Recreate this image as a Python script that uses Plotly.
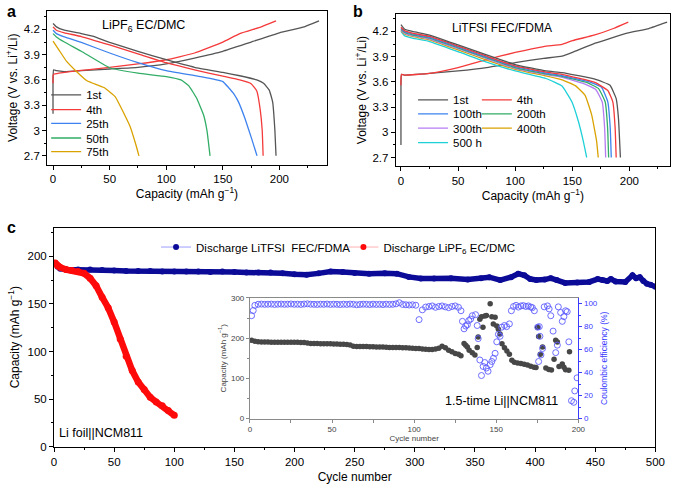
import plotly.graph_objects as go

FONT = "Liberation Sans, Arial, Helvetica, sans-serif"
W, H = 685, 490

# ---------------- Panel a : LiPF6 EC/DMC (capacity mAh/g, voltage V) ----------------
a_1st_chg_cap = [0, 0, 0.5, 3, 10, 25, 50, 75, 100, 125, 150, 175, 200, 222, 235]
a_1st_chg_v = [3.20, 3.60, 3.72, 3.71, 3.70, 3.71, 3.73, 3.75, 3.79, 3.86, 3.94, 4.05, 4.16, 4.23, 4.30]
a_1st_dis_cap = [0, 3, 10, 25, 35, 50, 75, 100, 125, 150, 165, 180, 186, 191, 194, 196, 197]
a_1st_dis_v = [4.27, 4.23, 4.19, 4.15, 4.12, 4.045, 3.94, 3.84, 3.75, 3.69, 3.65, 3.60, 3.56, 3.48, 3.34, 3.0, 2.7]

a_4th_chg_cap = [0, 0, 1, 5, 15, 30, 50, 75, 100, 125, 150, 165, 184, 197]
a_4th_chg_v = [3.56, 3.65, 3.67, 3.68, 3.70, 3.72, 3.75, 3.79, 3.84, 3.92, 4.05, 4.15, 4.23, 4.30]
a_4th_dis_cap = [0, 3, 10, 25, 50, 75, 100, 125, 150, 165, 175, 180, 183, 184.8, 185.6]
a_4th_dis_v = [4.23, 4.19, 4.16, 4.115, 4.015, 3.91, 3.805, 3.72, 3.645, 3.60, 3.555, 3.47, 3.25, 3.0, 2.7]

a_25th_dis_cap = [0, 3, 10, 25, 50, 75, 100, 130, 150, 155, 160, 163.8, 169.5, 175.3, 180.2]
a_25th_dis_v = [4.19, 4.15, 4.11, 4.045, 3.92, 3.805, 3.71, 3.64, 3.58, 3.51, 3.43, 3.34, 3.145, 2.91, 2.7]

a_50th_dis_cap = [0, 3, 10, 25, 50, 75, 100, 113, 120, 127, 133, 136, 138.7]
a_50th_dis_v = [4.15, 4.11, 4.05, 3.94, 3.745, 3.68, 3.64, 3.60, 3.53, 3.38, 3.185, 3.0, 2.7]

a_75th_dis_cap = [0, 5, 12, 20, 30, 45, 55, 62, 68, 73, 75.9]
a_75th_dis_v = [4.06, 3.96, 3.82, 3.71, 3.59, 3.51, 3.40, 3.22, 3.05, 2.84, 2.7]

# ---------------- Panel b : LiTFSI FEC/FDMA ----------------
b_1st_chg_cap = [0, 0, 0.5, 3, 25, 50, 75, 100, 125, 141, 150, 170, 198, 217, 233]
b_1st_chg_v = [2.85, 3.55, 3.69, 3.68, 3.70, 3.73, 3.77, 3.83, 3.88, 3.905, 3.95, 4.06, 4.18, 4.235, 4.31]
b_4th_chg_cap = [0, 0, 0.5, 3, 25, 50, 75, 100, 125, 141, 150, 169, 186, 199]
b_4th_chg_v = [3.56, 3.64, 3.69, 3.68, 3.70, 3.77, 3.865, 3.95, 4.02, 4.045, 4.09, 4.155, 4.235, 4.31]

b_1st_dis_cap = [0, 3, 10, 25, 50, 75, 100, 127, 141, 169.8, 183, 188.4, 190.4, 192.1]
b_1st_dis_v = [4.28, 4.23, 4.20, 4.157, 4.04, 3.92, 3.806, 3.73, 3.71, 3.632, 3.56, 3.40, 3.165, 2.70]
b_4th_dis_cap = [0, 3, 10, 25, 50, 75, 100, 127, 141, 169.8, 181.1, 185.5, 187.5, 188.4]
b_4th_dis_v = [4.25, 4.21, 4.18, 4.14, 4.025, 3.905, 3.79, 3.715, 3.69, 3.593, 3.497, 3.36, 3.05, 2.70]
b_100_dis_cap = [0, 3, 10, 25, 50, 75, 100, 127, 141, 165, 175.6, 181.1, 183.2, 184.1]
b_100_dis_v = [4.235, 4.20, 4.17, 4.13, 4.015, 3.895, 3.78, 3.705, 3.675, 3.60, 3.535, 3.36, 3.05, 2.70]
b_200_dis_cap = [0, 3, 10, 25, 50, 75, 100, 127, 141, 163, 173, 178.8, 180.9, 181.8]
b_200_dis_v = [4.225, 4.19, 4.16, 4.12, 4.005, 3.885, 3.77, 3.695, 3.665, 3.59, 3.52, 3.36, 3.05, 2.70]
b_300_dis_cap = [0, 3, 10, 25, 50, 75, 100, 127, 141, 160, 170.5, 176.2, 178.3, 179.2]
b_300_dis_v = [4.215, 4.18, 4.15, 4.11, 3.995, 3.875, 3.76, 3.685, 3.655, 3.58, 3.51, 3.36, 3.05, 2.70]
b_400_dis_cap = [0, 3, 10, 25, 50, 75, 100, 127, 141, 152.6, 161.2, 166.9, 171.2, 172.7]
b_400_dis_v = [4.21, 4.17, 4.14, 4.10, 3.98, 3.86, 3.75, 3.67, 3.625, 3.555, 3.44, 3.21, 2.90, 2.70]
b_500_dis_cap = [0, 3, 10, 25, 50, 75, 100, 127, 141, 145, 149.7, 155.4, 159.7, 162.6]
b_500_dis_v = [4.20, 4.15, 4.12, 4.08, 3.96, 3.835, 3.73, 3.64, 3.55, 3.47, 3.36, 3.125, 2.89, 2.70]

# ---------------- Panel c : discharge capacity vs cycle ----------------
c_litfsi_cycle = [1, 3, 5, 10, 20, 30, 40, 50, 60, 70,
                  80, 90, 100, 110, 120, 130, 140, 150, 160, 170,
                  180, 190, 200, 210, 220, 230, 240, 250, 262, 275,
                  285, 295, 305, 316, 330, 344, 355, 362, 371, 380,
                  386, 391, 396, 401, 408, 413, 418, 425, 435, 445,
                  452, 456, 460, 463, 467, 475, 481, 484, 487, 490,
                  493, 496, 500]
c_litfsi_cap = [193, 189, 187, 186, 186, 186, 185.5, 185, 184.5, 184.5,
                184.5, 184, 184, 184, 184, 183.5, 184, 183.5, 183, 183,
                183, 182, 181, 180.5, 182, 184, 183.5, 182.5, 181.7, 182,
                181.7, 178.3, 176.6, 176.6, 177, 175.6, 177, 178, 175, 178,
                181.7, 180, 176, 175, 175.5, 177, 175, 172, 172.5, 173,
                176, 175, 174, 176, 173.5, 173, 180, 177, 178, 174,
                171, 170, 168]

c_lipf6_cycle = [1, 3, 5, 10, 15, 20, 25, 30, 35, 40, 45, 50, 55, 60, 65, 70, 75, 80, 85, 90, 95, 100]
c_lipf6_cap = [193, 190, 188.5, 186, 185, 184, 182, 177, 169, 157, 146, 131, 113, 95, 80, 68, 60, 52, 47, 43, 38, 33]

c_ticks = [0, 50, 100, 150, 200, 250, 300, 350, 400, 450, 500]

# ---------------- Inset : 1.5-time Li||NCM811 ----------------
inset_cap_cycle = [1, 3, 5, 7, 9, 11, 13, 15, 17, 19, 21, 23, 25, 27, 29, 31, 33, 35, 37, 39,
                   41, 43, 45, 47, 49, 51, 53, 55, 57, 59, 61, 63, 65, 67, 69, 71, 73, 75, 77, 79,
                   81, 83, 85, 87, 89, 91, 93, 95, 97, 99, 101, 103, 105, 107, 109, 111, 113, 115, 117, 119,
                   121, 123, 125, 127, 128.5, 130.4, 131.4, 132.4, 133.5, 135.4,
                   137, 138.4, 139, 140, 141, 141.9, 143, 144, 146.3, 147.3,
                   148.2, 149.3, 150.3, 151.3, 152.3, 153.5, 155, 156.5, 158, 159.5,
                   161, 163, 165, 167, 169, 171, 173, 174.2, 175.2, 175.8,
                   176.8, 178.2, 180.2, 182, 183.6, 185.2, 186.2, 187.2, 188.2, 190.2,
                   191.2, 192.2, 194.2, 194.6]
inset_cap = [194.6, 192, 191, 190.5, 190.5, 190.5, 190, 190, 190, 190, 190, 190, 190, 189.5, 189.5, 189, 189, 188, 187, 186.5,
             186.5, 186, 186, 186, 186, 185.5, 185.5, 185, 185, 184.5, 183, 180, 179, 179, 179, 179, 178.5, 178.5, 178, 178,
             178, 177.5, 177, 177, 177, 176.5, 176, 176, 175.5, 175, 174.5, 174, 173, 172.5, 172, 172, 173, 175, 180, 176,
             170, 166, 162, 160, 156.4, 186.4, 182.4, 178, 170, 164,
             158, 176.7, 202.7, 247, 253, 227, 255, 256, 285.4, 253,
             235, 252, 230, 222, 210, 186, 176, 168, 160, 145,
             140, 138, 137, 135, 133, 130, 128, 127, 227, 204,
             160, 178, 125.6, 122, 121, 147.5, 194.6, 190.5, 129.7, 136,
             128, 121.6, 120, 166]

inset_ce_cycle = [1, 2, 3, 5, 7, 9, 11, 13, 15, 17, 19, 21, 23, 25, 27, 29, 31, 33, 35, 37,
                  39, 41, 43, 45, 47, 49, 51, 53, 55, 57, 59, 61, 63, 65, 67, 69, 71, 73, 75, 77,
                  79, 81, 83, 85, 87, 89, 91, 93, 95, 97, 99, 101, 103, 105, 107, 109, 111, 113, 115, 117,
                  119, 121, 123, 125, 127, 128.5, 129.4, 130.4, 131.4, 132.4,
                  133.3, 134.4, 135.4, 137.4, 138.4, 139, 140, 141, 142, 143,
                  144, 145, 146.3, 147.3, 148.3, 149.3, 150.3, 151.3, 152.3, 153.3,
                  155, 156.3, 158, 159.2, 160.5, 162, 163.5, 165, 166.5, 168,
                  169.5, 171, 172, 173.2, 175.2, 175.8, 176.2, 176.6, 177.2, 178.2,
                  179.2, 181.2, 182.2, 183.2, 184.6, 186.2, 187.2, 187.8, 189.2, 190.2,
                  191.2, 192.2, 193.2, 194.2, 195.8, 197.2, 197.8, 199.2]
inset_ce = [89.5, 94, 98.5, 99.4, 99.6, 99.4, 99.5, 99.6, 99.3, 99.5, 99.6, 99.4, 99.5, 99.7, 99.4, 99.5, 99.3, 99.6, 99.8, 99.5,
            99.4, 99.3, 99.5, 99.4, 99.6, 99.3, 99.5, 99.4, 99.2, 99.5, 99.3, 99.6, 99.4, 99.0, 99.3, 99.5, 99.4, 99.2, 99.5, 99.3,
            99.4, 99.2, 99.5, 99.3, 99.4, 99.8, 100.8, 99.3, 99.0, 98.8, 99.0, 98.6, 86.1, 94.6, 97, 97.5, 98, 96.8, 97.5, 98,
            97.2, 96.5, 97.5, 98, 96.8, 93.8, 84.6, 78.1, 80.5, 81.6,
            85.3, 86.6, 89.5, 90.4, 81, 69.6, 51, 37.5, 45.4, 48.8,
            44, 41.2, 46.9, 49.7, 52.5, 56.8, 66.8, 73.3, 71.6, 79.5,
            81, 80, 82.4, 93.8, 97.5, 98.5, 97, 98, 98.3, 97.5,
            98, 97, 96.5, 93.8, 79.5, 49.7, 80, 71.6, 55.4, 61,
            97.2, 98, 95.4, 89.5, 76.1, 57.4, 63.9, 97.2, 92.3, 84.6,
            88.7, 93.8, 93, 66.8, 15.6, 14.2, 24.1, 35.5]

# ---------------- colours ----------------
C_GRAY = "#555555"
C_RED = "#f43a3a"
C_BLUE = "#3d82ee"
C_GREEN = "#32ad66"
C_GOLD = "#d9a200"
C_PURPLE = "#b57cf2"
C_CYAN = "#1fd0d8"
C_NAVY = "#0b0b98"
C_CRED = "#ff0a0a"
C_INSET_GRAY = "#474747"
C_CE = "#5d5dff"


def px_x(p):
    return p / W


def px_y(p):
    return 1 - p / H


fig = go.Figure()


def curve(x, y, color, name, xa, ya, legend="legend", show=True):
    fig.add_trace(go.Scatter(
        x=x, y=y, mode="lines", name=name, xaxis=xa, yaxis=ya,
        line=dict(color=color, width=1.3, shape="spline", smoothing=0.35),
        legend=legend, showlegend=show, hoverinfo="skip"))


# panel a  (one legend box per entry so rows sit as tight as in the reference)
curve(a_1st_chg_cap, a_1st_chg_v, C_GRAY, "1st", "x", "y", show=False)
curve(a_4th_chg_cap, a_4th_chg_v, C_RED, "4th", "x", "y", show=False)
curve(a_75th_dis_cap, a_75th_dis_v, C_GOLD, "75th", "x", "y", legend="legend5")
curve(a_50th_dis_cap, a_50th_dis_v, C_GREEN, "50th", "x", "y", legend="legend4")
curve(a_25th_dis_cap, a_25th_dis_v, C_BLUE, "25th", "x", "y", legend="legend3")
curve(a_4th_dis_cap, a_4th_dis_v, C_RED, "4th", "x", "y", legend="legend2")
curve(a_1st_dis_cap, a_1st_dis_v, C_GRAY, "1st", "x", "y", legend="legend")

# panel b
curve(b_1st_chg_cap, b_1st_chg_v, C_GRAY, "1st", "x3", "y3", show=False)
curve(b_4th_chg_cap, b_4th_chg_v, C_RED, "4th", "x3", "y3", show=False)
curve(b_500_dis_cap, b_500_dis_v, C_CYAN, "500 h", "x3", "y3", legend="legend12")
curve(b_400_dis_cap, b_400_dis_v, C_GOLD, "400th", "x3", "y3", legend="legend11")
curve(b_300_dis_cap, b_300_dis_v, C_PURPLE, "300th", "x3", "y3", legend="legend10")
curve(b_200_dis_cap, b_200_dis_v, C_GREEN, "200th", "x3", "y3", legend="legend9")
curve(b_100_dis_cap, b_100_dis_v, C_BLUE, "100th", "x3", "y3", legend="legend8")
curve(b_4th_dis_cap, b_4th_dis_v, C_RED, "4th", "x3", "y3", legend="legend7")
curve(b_1st_dis_cap, b_1st_dis_v, C_GRAY, "1st", "x3", "y3", legend="legend6")

# panel c
fig.add_trace(go.Scatter(
    x=c_litfsi_cycle, y=c_litfsi_cap, mode="lines+markers", xaxis="x5", yaxis="y5",
    line=dict(color=C_NAVY, width=5.5), marker=dict(color=C_NAVY, size=6),
    showlegend=False, hoverinfo="skip"))
fig.add_trace(go.Scatter(
    x=c_lipf6_cycle, y=c_lipf6_cap, mode="lines+markers", xaxis="x5", yaxis="y5",
    line=dict(color=C_CRED, width=6.5), marker=dict(color=C_CRED, size=7),
    showlegend=False, hoverinfo="skip"))
# legend entries (no data)
fig.add_trace(go.Scatter(
    x=[None], y=[None], mode="lines+markers", xaxis="x5", yaxis="y5",
    name="Discharge LiTFSI \u00a0FEC/FDMA",
    line=dict(color="#9d9dff", width=1), marker=dict(color=C_NAVY, size=6),
    legend="legend13"))
fig.add_trace(go.Scatter(
    x=[None], y=[None], mode="lines+markers", xaxis="x5", yaxis="y5",
    name="Discharge LiPF<sub>6</sub> EC/DMC",
    line=dict(color="#ffb0b0", width=1), marker=dict(color=C_CRED, size=6),
    legend="legend14"))

# inset
fig.add_trace(go.Scatter(
    x=inset_ce_cycle, y=inset_ce, mode="markers", xaxis="x7", yaxis="y8",
    marker=dict(symbol="circle-open", size=6, color=C_CE, line=dict(width=0.9)),
    showlegend=False, hoverinfo="skip"))
fig.add_trace(go.Scatter(
    x=inset_cap_cycle, y=inset_cap, mode="markers", xaxis="x7", yaxis="y7",
    marker=dict(size=5.5, color=C_INSET_GRAY),
    showlegend=False, hoverinfo="skip"))

# ---------------- axes ----------------
tickfont = dict(family=FONT, size=11.5, color="black")
titlefont = dict(family=FONT, size=12, color="black")


def main_axis(**kw):
    d = dict(showline=True, linecolor="black", linewidth=1, mirror=True,
             ticks="outside", ticklen=4, tickwidth=1, tickcolor="black",
             showgrid=False, zeroline=False, tickfont=tickfont, title_font=titlefont)
    d.update(kw)
    return d


def overlay_axis(over, anchor, side, rng, dtick, tick0, mdtick=None):
    d = dict(overlaying=over, anchor=anchor, side=side, range=rng,
             ticks="inside", ticklen=4, tickwidth=1, tickcolor="black",
             dtick=dtick, tick0=tick0, showticklabels=False, showline=False,
             showgrid=False, zeroline=False)
    if mdtick:
        d["minor"] = dict(dtick=mdtick, ticks="inside", ticklen=2, tickcolor="black", showgrid=False)
    return d


a_xr = [-5.2, 241.8]
a_yr = [2.595, 4.42]
b_xr = [-4.6, 235.6]
b_yr = [2.595, 4.41]
c_xr = [0, 500]
c_yr = [0, 230]

layout_axes = dict(
    xaxis=main_axis(domain=[px_x(45), px_x(330)], range=a_xr, anchor="y", dtick=50, tick0=0,
                    minor=dict(dtick=25, ticks="outside", ticklen=2, tickcolor="black", showgrid=False),
                    title=dict(text="Capacity (mAh g<sup>−1</sup>)", standoff=4)),
    yaxis=main_axis(domain=[px_y(164), px_y(7)], range=a_yr, anchor="x", dtick=0.3, tick0=2.7,
                    minor=dict(dtick=0.15, ticks="outside", ticklen=2, tickcolor="black", showgrid=False),
                    title=dict(text="Voltage (V vs. Li<sup>+</sup>/Li)", standoff=3)),
    xaxis2=overlay_axis("x", "y", "top", a_xr, 50, 0, 25),
    yaxis2=overlay_axis("y", "x", "right", a_yr, 0.3, 2.7, 0.15),

    xaxis3=main_axis(domain=[px_x(400.3), px_x(680)], range=b_xr, anchor="y3", dtick=50, tick0=0,
                     minor=dict(dtick=25, ticks="outside", ticklen=2, tickcolor="black", showgrid=False),
                     title=dict(text="Capacity (mAh g<sup>−1</sup>)", standoff=4)),
    yaxis3=main_axis(domain=[px_y(165.7), px_y(10)], range=b_yr, anchor="x3", dtick=0.3, tick0=2.7,
                     minor=dict(dtick=0.15, ticks="outside", ticklen=2, tickcolor="black", showgrid=False),
                     title=dict(text="Voltage (V vs. Li<sup>+</sup>/Li)", standoff=3)),
    xaxis4=overlay_axis("x3", "y3", "top", b_xr, 50, 0, 25),
    yaxis4=overlay_axis("y3", "x3", "right", b_yr, 0.3, 2.7, 0.15),

    xaxis5=main_axis(domain=[px_x(52), px_x(665)], range=c_xr, anchor="y5", tickvals=c_ticks,
                     minor=dict(dtick=25, ticks="outside", ticklen=2, tickcolor="black", showgrid=False),
                     title=dict(text="Cycle number", standoff=6)),
    yaxis5=main_axis(domain=[px_y(452), px_y(228.3)], range=c_yr, anchor="x5", dtick=50, tick0=0,
                     minor=dict(dtick=25, ticks="outside", ticklen=2, tickcolor="black", showgrid=False),
                     title=dict(text="Capacity (mAh g<sup>−1</sup>)", standoff=5)),
    xaxis6=overlay_axis("x5", "y5", "top", c_xr, 25, 0),
    yaxis6=overlay_axis("y5", "x5", "right", c_yr, 25, 0),

    xaxis7=dict(domain=[px_x(251.7), px_x(586.5)], range=[0, 200], anchor="y7",
                showline=True, linecolor="#8a8a8a", linewidth=1, mirror=True,
                ticks="outside", ticklen=3, tickcolor="#8a8a8a", dtick=50, tick0=0,
                minor=dict(dtick=25, ticks="outside", ticklen=3, tickcolor="#8a8a8a", showgrid=False),
                showgrid=False, zeroline=False,
                tickfont=dict(family=FONT, size=8, color="#444444"),
                title=dict(text="Cycle number", standoff=2, font=dict(family=FONT, size=8, color="#444444"))),
    yaxis7=dict(domain=[px_y(423.3), px_y(300)], range=[0, 300], anchor="x7",
                showline=True, linecolor="#8a8a8a", linewidth=1,
                ticks="outside", ticklen=3, tickcolor="#8a8a8a", dtick=100, tick0=0,
                minor=dict(dtick=50, ticks="outside", ticklen=2, tickcolor="#8a8a8a", showgrid=False),
                showgrid=False, zeroline=False,
                tickfont=dict(family=FONT, size=8, color="#444444"),
                title=dict(text="Capacity (mAh g<sup>−1</sup>)", standoff=3, font=dict(family=FONT, size=8, color="#444444"))),
    yaxis8=dict(overlaying="y7", anchor="x7", side="right", range=[0, 105],
                showline=True, linecolor="#3b3bff", linewidth=1,
                ticks="outside", ticklen=3, tickcolor="#3b3bff", dtick=20, tick0=0,
                minor=dict(dtick=10, ticks="outside", ticklen=2, tickcolor="#3b3bff", showgrid=False),
                showgrid=False, zeroline=False,
                tickfont=dict(family=FONT, size=8, color="#3b3bff"),
                title=dict(text="Coulombic efficiency (%)", standoff=4, font=dict(family=FONT, size=8.5, color="#3b3bff"))),
)

legend_common = dict(bgcolor="rgba(0,0,0,0)", borderwidth=0, xanchor="left", yanchor="top",
                     font=dict(family=FONT, size=11.5, color="black"), tracegroupgap=0, traceorder="normal")

# legend boxes: (name, left px of box, row-centre px)
legend_pos = {
    "legend": (44, 94), "legend2": (44, 109), "legend3": (44, 123), "legend4": (44, 138), "legend5": (44, 152),
    "legend6": (418, 99), "legend8": (418, 113.3), "legend10": (418, 128), "legend12": (418, 142.7),
    "legend7": (483, 99), "legend9": (483, 113.3), "legend11": (483, 128),
    "legend13": (156, 249.3), "legend14": (347, 249.3),
}
layout_legends = {k: dict(x=px_x(v[0]), y=px_y(v[1] - 16), **legend_common) for k, v in legend_pos.items()}


def ann(text, x, y, size=12, bold=False, color="black", xanchor="left"):
    return dict(text=("<b>%s</b>" % text) if bold else text, x=px_x(x), y=px_y(y),
                xref="paper", yref="paper", xanchor=xanchor, yanchor="middle",
                showarrow=False, font=dict(family=FONT, size=size, color=color))


annotations = [
    ann("a", 2, 8, size=16, bold=True),
    ann("b", 355, 8, size=16, bold=True),
    ann("c", 2, 228, size=16, bold=True),
    ann("LiPF<sub>6</sub> EC/DMC", 99, 22, size=12.5),
    ann("LiTFSI FEC/FDMA", 456, 24, size=12),
    ann("Li foil||NCM811", 55, 438, size=12.5),
    ann("1.5-time Li||NCM811", 449, 405, size=12.5),
]

fig.update_layout(
    width=W, height=H, margin=dict(l=0, r=0, t=0, b=0),
    paper_bgcolor="white", plot_bgcolor="white",
    font=dict(family=FONT, size=12, color="black"),
    annotations=annotations, hovermode=False,
    **layout_axes, **layout_legends,
)

fig.write_html("out.html", config={"displayModeBar": False, "staticPlot": True},
               post_script="document.body.style.margin='0px';")
